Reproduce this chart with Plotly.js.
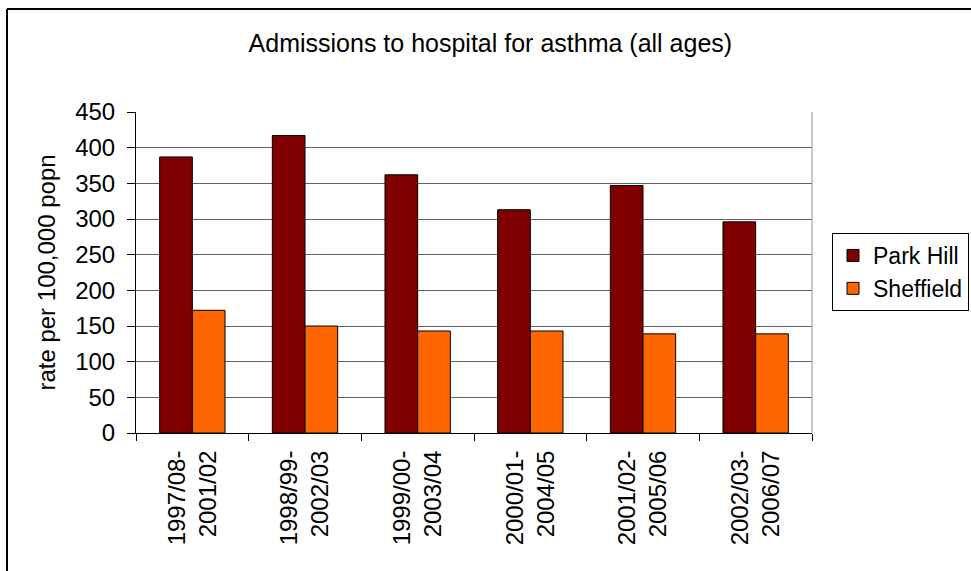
<!DOCTYPE html>
<html>
<head>
<meta charset="utf-8">
<script src="https://cdn.plot.ly/plotly-3.0.1.min.js"></script>
<style>html,body{margin:0;padding:0;background:#fff;}#chart{width:971px;height:571px;}</style>
</head>
<body>
<div id="chart"></div>
<script>
const categories = ["1997/08-<br>2001/02", "1998/99-<br>2002/03", "1999/00-<br>2003/04", "2000/01-<br>2004/05", "2001/02-<br>2005/06", "2002/03-<br>2006/07"];
const parkHill = [387, 417, 362, 313, 347, 296];
const sheffield = [172, 150, 143, 143, 139, 139];
const yTicks = [0, 50, 100, 150, 200, 250, 300, 350, 400, 450];

const L = 136, R = 812, T = 112, B = 433, W = 971, H = 571;
const px = v => (v - L) / (R - L);
const py = v => (B - v) / (B - T);

const font = {family: "Liberation Sans, Arial, sans-serif", color: "#000"};

const traces = [
  {type: "bar", name: "Park Hill", x: categories, y: parkHill,
   marker: {color: "#800000", line: {color: "#000", width: 1}}},
  {type: "bar", name: "Sheffield", x: categories, y: sheffield,
   marker: {color: "#FF6600", line: {color: "#000", width: 1}}}
];

const layout = {
  width: W, height: H,
  margin: {l: L, r: W - R, t: T, b: H - B, pad: 0},
  paper_bgcolor: "#fff", plot_bgcolor: "#fff",
  font: Object.assign({size: 24}, font),
  title: {text: "Admissions to hospital for asthma (all ages)", x: 0.505, xanchor: "center",
          y: 1 - 43 / H, yanchor: "middle", font: Object.assign({size: 25}, font)},
  barmode: "group", bargap: 0.42, bargroupgap: 0,
  showlegend: true,
  legend: {xref: "container", yref: "container", x: 969 / W, y: 1 - 233 / H, xanchor: "right", yanchor: "top",
           bordercolor: "#000", borderwidth: 1, bgcolor: "#fff", traceorder: "normal",
           font: Object.assign({size: 23}, font), itemwidth: 30},
  xaxis: {type: "category", tickangle: -90, tickson: "boundaries", ticks: "outside", ticklen: 7,
          tickcolor: "#000", showline: true, linecolor: "#000", linewidth: 1, ticklabelstandoff: 7,
          showgrid: false, tickfont: Object.assign({size: 24}, font), automargin: false},
  yaxis: {range: [0, 450], tickvals: yTicks, ticks: "outside", ticklen: 8, tickcolor: "#000",
          showline: true, linecolor: "#000", linewidth: 1, zeroline: false, ticklabelstandoff: 7,
          showgrid: true, gridcolor: "#606060", gridwidth: 1,
          tickfont: Object.assign({size: 24}, font), automargin: false,
          title: {text: "rate per 100,000 popn", font: Object.assign({size: 24}, font), standoff: 12}},
  shapes: [
    {type: "line", xref: "paper", yref: "paper", x0: 1, x1: 1, y0: 0, y1: 1,
     line: {color: "#909090", width: 1}},
    {type: "line", xref: "paper", yref: "paper", x0: px(7), x1: px(7), y0: py(9), y1: py(H + 5),
     line: {color: "#000", width: 2}},
    {type: "line", xref: "paper", yref: "paper", x0: px(7), x1: px(W + 5), y0: py(9), y1: py(9),
     line: {color: "#000", width: 2}}
  ]
};

Plotly.newPlot("chart", traces, layout, {displayModeBar: false, staticPlot: true});
</script>
</body>
</html>
